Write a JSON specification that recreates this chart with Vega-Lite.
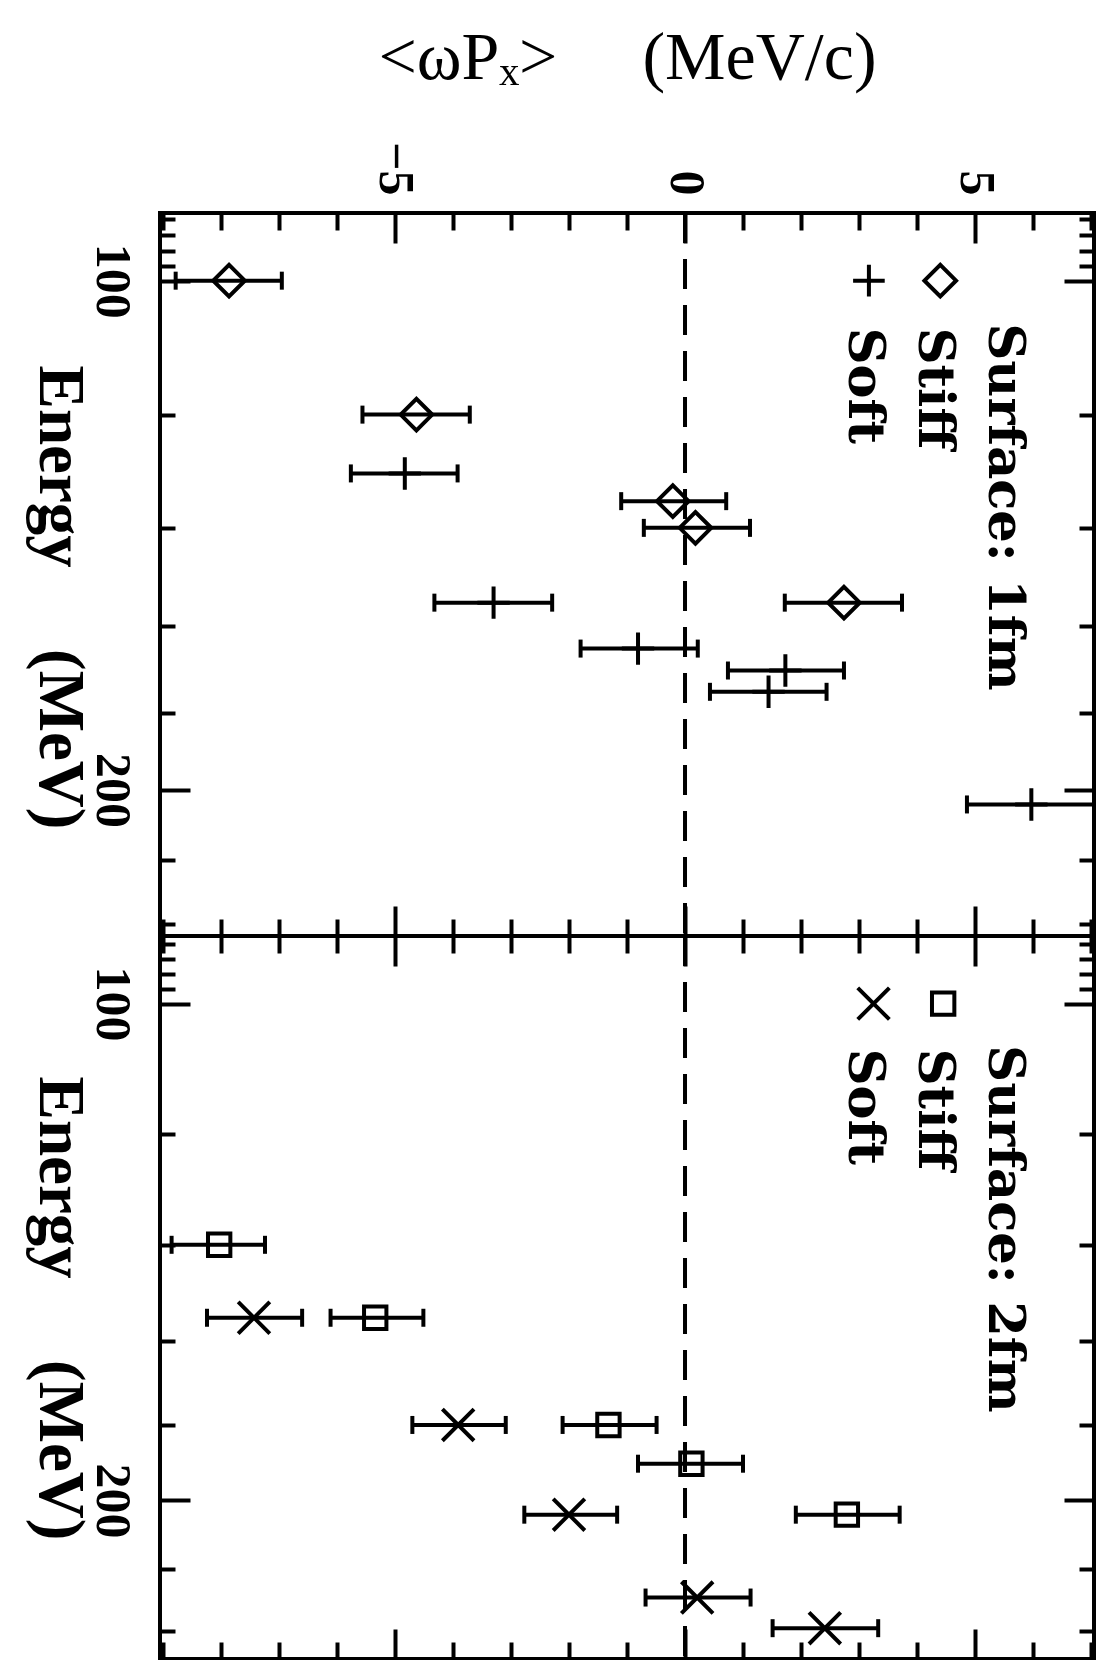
{
  "$schema": "https://vega.github.io/schema/vega-lite/v6.json",
  "background": "white",
  "padding": {"left": 24, "top": 22, "right": 0, "bottom": 0},
  "spacing": 0,
  "bounds": "flush",
  "datasets": {
    "pts": [
      {"panel": "1fm", "series": "Stiff", "E": 100, "v": -7.86, "lo": -8.78, "hi": -6.95},
      {"panel": "1fm", "series": "Stiff", "E": 120, "v": -4.63, "lo": -5.56, "hi": -3.71},
      {"panel": "1fm", "series": "Stiff", "E": 135, "v": -0.21, "lo": -1.10, "hi": 0.71},
      {"panel": "1fm", "series": "Stiff", "E": 140, "v": 0.18, "lo": -0.71, "hi": 1.12},
      {"panel": "1fm", "series": "Stiff", "E": 155, "v": 2.74, "lo": 1.72, "hi": 3.74},
      {"panel": "1fm", "series": "Soft", "E": 130, "v": -4.83, "lo": -5.76, "hi": -3.92},
      {"panel": "1fm", "series": "Soft", "E": 155, "v": -3.30, "lo": -4.32, "hi": -2.29},
      {"panel": "1fm", "series": "Soft", "E": 165, "v": -0.81, "lo": -1.80, "hi": 0.22},
      {"panel": "1fm", "series": "Soft", "E": 170, "v": 1.73, "lo": 0.74, "hi": 2.74},
      {"panel": "1fm", "series": "Soft", "E": 175, "v": 1.44, "lo": 0.43, "hi": 2.44},
      {"panel": "1fm", "series": "Soft", "E": 204, "v": 5.97, "lo": 4.86, "hi": 7.08},
      {"panel": "2fm", "series": "Stiff", "E": 140, "v": -8.03, "lo": -8.85, "hi": -7.24},
      {"panel": "2fm", "series": "Stiff", "E": 155, "v": -5.34, "lo": -6.11, "hi": -4.51},
      {"panel": "2fm", "series": "Stiff", "E": 180, "v": -1.32, "lo": -2.11, "hi": -0.49},
      {"panel": "2fm", "series": "Stiff", "E": 190, "v": 0.11, "lo": -0.81, "hi": 1.0},
      {"panel": "2fm", "series": "Stiff", "E": 204, "v": 2.79, "lo": 1.91, "hi": 3.70},
      {"panel": "2fm", "series": "Soft", "E": 155, "v": -7.43, "lo": -8.24, "hi": -6.60},
      {"panel": "2fm", "series": "Soft", "E": 180, "v": -3.91, "lo": -4.70, "hi": -3.09},
      {"panel": "2fm", "series": "Soft", "E": 204, "v": -2.0, "lo": -2.77, "hi": -1.17},
      {"panel": "2fm", "series": "Soft", "E": 229, "v": 0.21, "lo": -0.68, "hi": 1.13},
      {"panel": "2fm", "series": "Soft", "E": 239, "v": 2.41, "lo": 1.51, "hi": 3.33}
    ]
  },
  "vconcat": [
    {
      "width": 934,
      "height": 723,
      "resolve": {"axis": {"x": "independent", "y": "independent"}},
      "layer": [
        {
          "data": {"name": "pts"},
          "transform": [{"filter": "datum.panel === '1fm'"}],
          "mark": {"type": "rule", "color": "black", "strokeWidth": 4, "clip": true},
          "encoding": {
            "x": {"field": "lo", "type": "quantitative", "scale": {"domain": [-9.05, 7.05], "nice": false, "zero": false},
              "axis": {"orient": "top", "values": [-5, 0, 5], "ticks": false, "labelAngle": 90, "labelAlign": "right", "labelBaseline": "middle", "labelPadding": 18, "labelFlush": false,
                "title": "<ωPₓ>\u00a0\u00a0\u00a0\u00a0\u00a0(MeV/c)", "titleFont": "Liberation Serif", "titleFontWeight": "normal", "titleFontSize": 68, "titleBaseline": "alphabetic", "titleY": -135}},
            "x2": {"field": "hi"},
            "y": {"field": "E", "type": "quantitative", "scale": {"type": "log", "domain": [91.2, 244], "reverse": true, "nice": false},
              "axis": {"orient": "left", "values": [100, 200], "format": "d", "ticks": false, "labelAngle": 90, "labelAlign": "center", "labelBaseline": "top", "labelPadding": 24, "labelFlush": false,
                "title": "Energy\u00a0\u00a0\u00a0\u00a0\u00a0(MeV)", "titleAngle": 90, "titleFont": "Liberation Serif", "titleFontWeight": "bold", "titleFontSize": 65, "titleBaseline": "alphabetic", "titleAlign": "center", "titleX": -121, "titleY": 384}}
          }
        },
        {
          "data": {"name": "pts"},
          "transform": [{"filter": "datum.panel === '1fm'"}],
          "mark": {"type": "tick", "orient": "vertical", "color": "black", "size": 18, "thickness": 4, "opacity": 1},
          "encoding": {
            "x": {"field": "lo", "type": "quantitative", "scale": {"domain": [-9.05, 7.05], "nice": false, "zero": false},
              "axis": {"orient": "top", "values": [-5, 0, 5], "labels": false, "tickSize": -30, "title": null}},
            "y": {"field": "E", "type": "quantitative", "scale": {"type": "log", "domain": [91.2, 244], "reverse": true, "nice": false},
              "axis": {"orient": "left", "values": [100, 200], "labels": false, "tickSize": -30, "title": null}}
          }
        },
        {
          "data": {"name": "pts"},
          "transform": [{"filter": "datum.panel === '1fm'"}],
          "mark": {"type": "tick", "orient": "vertical", "color": "black", "size": 18, "thickness": 4, "opacity": 1, "clip": true},
          "encoding": {
            "x": {"field": "hi", "type": "quantitative", "scale": {"domain": [-9.05, 7.05], "nice": false, "zero": false},
              "axis": {"orient": "top", "values": [-9, -8, -7, -6, -4, -3, -2, -1, 1, 2, 3, 4, 6, 7], "labels": false, "tickSize": -17, "title": null}},
            "y": {"field": "E", "type": "quantitative", "scale": {"type": "log", "domain": [91.2, 244], "reverse": true, "nice": false},
              "axis": {"orient": "left", "values": [92, 94, 96, 98, 120, 140, 160, 180, 220, 240], "labels": false, "tickSize": -15, "title": null}}
          }
        },
        {
          "data": {"name": "pts"},
          "transform": [{"filter": "datum.panel === '1fm' && datum.series === 'Stiff'"}],
          "mark": {"type": "point", "shape": "diamond", "size": 1000, "filled": false, "stroke": "black", "strokeWidth": 4, "opacity": 1},
          "encoding": {
            "x": {"field": "v", "type": "quantitative", "scale": {"domain": [-9.05, 7.05], "nice": false, "zero": false},
              "axis": {"orient": "bottom", "values": [-5, 0, 5], "labels": false, "tickSize": -30, "title": null}},
            "y": {"field": "E", "type": "quantitative", "scale": {"type": "log", "domain": [91.2, 244], "reverse": true, "nice": false},
              "axis": {"orient": "right", "values": [100, 200], "labels": false, "tickSize": -30, "title": null}}
          }
        },
        {
          "data": {"name": "pts"},
          "transform": [{"filter": "datum.panel === '1fm' && datum.series === 'Soft'"}],
          "mark": {"type": "point", "shape": "M-1,0L1,0M0,-1L0,1", "size": 1050, "filled": false, "stroke": "black", "strokeWidth": 4, "opacity": 1},
          "encoding": {
            "x": {"field": "v", "type": "quantitative", "scale": {"domain": [-9.05, 7.05], "nice": false, "zero": false},
              "axis": {"orient": "bottom", "values": [-9, -8, -7, -6, -4, -3, -2, -1, 1, 2, 3, 4, 6, 7], "labels": false, "tickSize": -17, "title": null}},
            "y": {"field": "E", "type": "quantitative", "scale": {"type": "log", "domain": [91.2, 244], "reverse": true, "nice": false},
              "axis": {"orient": "right", "values": [92, 94, 96, 98, 120, 140, 160, 180, 220, 240], "labels": false, "tickSize": -15, "title": null}}
          }
        },
        {
          "data": {"values": [{}]},
          "mark": {"type": "rule", "color": "black", "strokeWidth": 4, "strokeDash": [30, 16]},
          "encoding": {"x": {"datum": 0, "type": "quantitative", "axis": null}}
        },
        {
          "data": {"values": [{}]},
          "mark": {"type": "text", "text": "Surface: 1fm", "angle": 90, "align": "left", "baseline": "middle", "font": "DejaVu Serif", "fontWeight": "bold", "fontSize": 51, "color": "black"},
          "encoding": {"x": {"datum": 5.5, "type": "quantitative", "axis": null}, "y": {"datum": 106.0, "type": "quantitative", "axis": null}}
        },
        {
          "data": {"values": [{}]},
          "mark": {"type": "text", "text": "Stiff", "angle": 90, "align": "left", "baseline": "middle", "font": "DejaVu Serif", "fontWeight": "bold", "fontSize": 51, "color": "black"},
          "encoding": {"x": {"datum": 4.29, "type": "quantitative", "axis": null}, "y": {"datum": 106.6, "type": "quantitative", "axis": null}}
        },
        {
          "data": {"values": [{}]},
          "mark": {"type": "text", "text": "Soft", "angle": 90, "align": "left", "baseline": "middle", "font": "DejaVu Serif", "fontWeight": "bold", "fontSize": 51, "color": "black"},
          "encoding": {"x": {"datum": 3.09, "type": "quantitative", "axis": null}, "y": {"datum": 106.6, "type": "quantitative", "axis": null}}
        },
        {
          "data": {"values": [{}]},
          "mark": {"type": "point", "shape": "diamond", "size": 1000, "filled": false, "stroke": "black", "strokeWidth": 4, "opacity": 1},
          "encoding": {"x": {"datum": 4.4, "type": "quantitative", "axis": null}, "y": {"datum": 100, "type": "quantitative", "axis": null}}
        },
        {
          "data": {"values": [{}]},
          "mark": {"type": "point", "shape": "M-1,0L1,0M0,-1L0,1", "size": 1000, "filled": false, "stroke": "black", "strokeWidth": 4, "opacity": 1},
          "encoding": {"x": {"datum": 3.17, "type": "quantitative", "axis": null}, "y": {"datum": 100, "type": "quantitative", "axis": null}}
        }
      ]
    },
    {
      "width": 934,
      "height": 723,
      "resolve": {"axis": {"x": "independent", "y": "independent"}},
      "layer": [
        {
          "data": {"name": "pts"},
          "transform": [{"filter": "datum.panel === '2fm'"}],
          "mark": {"type": "rule", "color": "black", "strokeWidth": 4, "clip": true},
          "encoding": {
            "x": {"field": "lo", "type": "quantitative", "scale": {"domain": [-9.05, 7.05], "nice": false, "zero": false}, "axis": null},
            "x2": {"field": "hi"},
            "y": {"field": "E", "type": "quantitative", "scale": {"type": "log", "domain": [91, 249.5], "reverse": true, "nice": false},
              "axis": {"orient": "left", "values": [100, 200], "format": "d", "ticks": false, "labelAngle": 90, "labelAlign": "center", "labelBaseline": "top", "labelPadding": 24, "labelFlush": false,
                "title": "Energy\u00a0\u00a0\u00a0\u00a0\u00a0(MeV)", "titleAngle": 90, "titleFont": "Liberation Serif", "titleFontWeight": "bold", "titleFontSize": 65, "titleBaseline": "alphabetic", "titleAlign": "center", "titleX": -121, "titleY": 372}}
          }
        },
        {
          "data": {"name": "pts"},
          "transform": [{"filter": "datum.panel === '2fm'"}],
          "mark": {"type": "tick", "orient": "vertical", "color": "black", "size": 18, "thickness": 4, "opacity": 1},
          "encoding": {
            "x": {"field": "lo", "type": "quantitative", "scale": {"domain": [-9.05, 7.05], "nice": false, "zero": false},
              "axis": {"orient": "top", "values": [-5, 0, 5], "labels": false, "tickSize": -30, "title": null}},
            "y": {"field": "E", "type": "quantitative", "scale": {"type": "log", "domain": [91, 249.5], "reverse": true, "nice": false},
              "axis": {"orient": "left", "values": [100, 200], "labels": false, "tickSize": -30, "title": null}}
          }
        },
        {
          "data": {"name": "pts"},
          "transform": [{"filter": "datum.panel === '2fm'"}],
          "mark": {"type": "tick", "orient": "vertical", "color": "black", "size": 18, "thickness": 4, "opacity": 1},
          "encoding": {
            "x": {"field": "hi", "type": "quantitative", "scale": {"domain": [-9.05, 7.05], "nice": false, "zero": false},
              "axis": {"orient": "top", "values": [-9, -8, -7, -6, -4, -3, -2, -1, 1, 2, 3, 4, 6, 7], "labels": false, "tickSize": -17, "title": null}},
            "y": {"field": "E", "type": "quantitative", "scale": {"type": "log", "domain": [91, 249.5], "reverse": true, "nice": false},
              "axis": {"orient": "left", "values": [92, 94, 96, 98, 120, 140, 160, 180, 220, 240], "labels": false, "tickSize": -15, "title": null}}
          }
        },
        {
          "data": {"name": "pts"},
          "transform": [{"filter": "datum.panel === '2fm' && datum.series === 'Stiff'"}],
          "mark": {"type": "point", "shape": "square", "size": 500, "filled": false, "stroke": "black", "strokeWidth": 4, "opacity": 1},
          "encoding": {
            "x": {"field": "v", "type": "quantitative", "scale": {"domain": [-9.05, 7.05], "nice": false, "zero": false},
              "axis": {"orient": "bottom", "values": [-5, 0, 5], "labels": false, "tickSize": -30, "title": null}},
            "y": {"field": "E", "type": "quantitative", "scale": {"type": "log", "domain": [91, 249.5], "reverse": true, "nice": false},
              "axis": {"orient": "right", "values": [100, 200], "labels": false, "tickSize": -30, "title": null}}
          }
        },
        {
          "data": {"name": "pts"},
          "transform": [{"filter": "datum.panel === '2fm' && datum.series === 'Soft'"}],
          "mark": {"type": "point", "shape": "M-1,-1L1,1M1,-1L-1,1", "size": 1000, "filled": false, "stroke": "black", "strokeWidth": 4, "opacity": 1},
          "encoding": {
            "x": {"field": "v", "type": "quantitative", "scale": {"domain": [-9.05, 7.05], "nice": false, "zero": false},
              "axis": {"orient": "bottom", "values": [-9, -8, -7, -6, -4, -3, -2, -1, 1, 2, 3, 4, 6, 7], "labels": false, "tickSize": -17, "title": null}},
            "y": {"field": "E", "type": "quantitative", "scale": {"type": "log", "domain": [91, 249.5], "reverse": true, "nice": false},
              "axis": {"orient": "right", "values": [92, 94, 96, 98, 120, 140, 160, 180, 220, 240], "labels": false, "tickSize": -15, "title": null}}
          }
        },
        {
          "data": {"values": [{}]},
          "mark": {"type": "rule", "color": "black", "strokeWidth": 4, "strokeDash": [30, 16]},
          "encoding": {"x": {"datum": 0, "type": "quantitative", "axis": null}}
        },
        {
          "data": {"values": [{}]},
          "mark": {"type": "text", "text": "Surface: 2fm", "angle": 90, "align": "left", "baseline": "middle", "font": "DejaVu Serif", "fontWeight": "bold", "fontSize": 51, "color": "black"},
          "encoding": {"x": {"datum": 5.5, "type": "quantitative", "axis": null}, "y": {"datum": 106.0, "type": "quantitative", "axis": null}}
        },
        {
          "data": {"values": [{}]},
          "mark": {"type": "text", "text": "Stiff", "angle": 90, "align": "left", "baseline": "middle", "font": "DejaVu Serif", "fontWeight": "bold", "fontSize": 51, "color": "black"},
          "encoding": {"x": {"datum": 4.29, "type": "quantitative", "axis": null}, "y": {"datum": 106.5, "type": "quantitative", "axis": null}}
        },
        {
          "data": {"values": [{}]},
          "mark": {"type": "text", "text": "Soft", "angle": 90, "align": "left", "baseline": "middle", "font": "DejaVu Serif", "fontWeight": "bold", "fontSize": 51, "color": "black"},
          "encoding": {"x": {"datum": 3.09, "type": "quantitative", "axis": null}, "y": {"datum": 106.5, "type": "quantitative", "axis": null}}
        },
        {
          "data": {"values": [{}]},
          "mark": {"type": "point", "shape": "square", "size": 500, "filled": false, "stroke": "black", "strokeWidth": 4, "opacity": 1},
          "encoding": {"x": {"datum": 4.45, "type": "quantitative", "axis": null}, "y": {"datum": 100, "type": "quantitative", "axis": null}}
        },
        {
          "data": {"values": [{}]},
          "mark": {"type": "point", "shape": "M-1,-1L1,1M1,-1L-1,1", "size": 1000, "filled": false, "stroke": "black", "strokeWidth": 4, "opacity": 1},
          "encoding": {"x": {"datum": 3.25, "type": "quantitative", "axis": null}, "y": {"datum": 100, "type": "quantitative", "axis": null}}
        }
      ]
    }
  ],
  "config": {
    "view": {"stroke": "black", "strokeWidth": 4},
    "axis": {
      "domain": false,
      "grid": false,
      "tickColor": "black",
      "tickWidth": 4,
      "labelColor": "black",
      "titleColor": "black",
      "labelFont": "Liberation Serif",
      "labelFontWeight": "bold",
      "labelFontSize": 50
    }
  }
}
